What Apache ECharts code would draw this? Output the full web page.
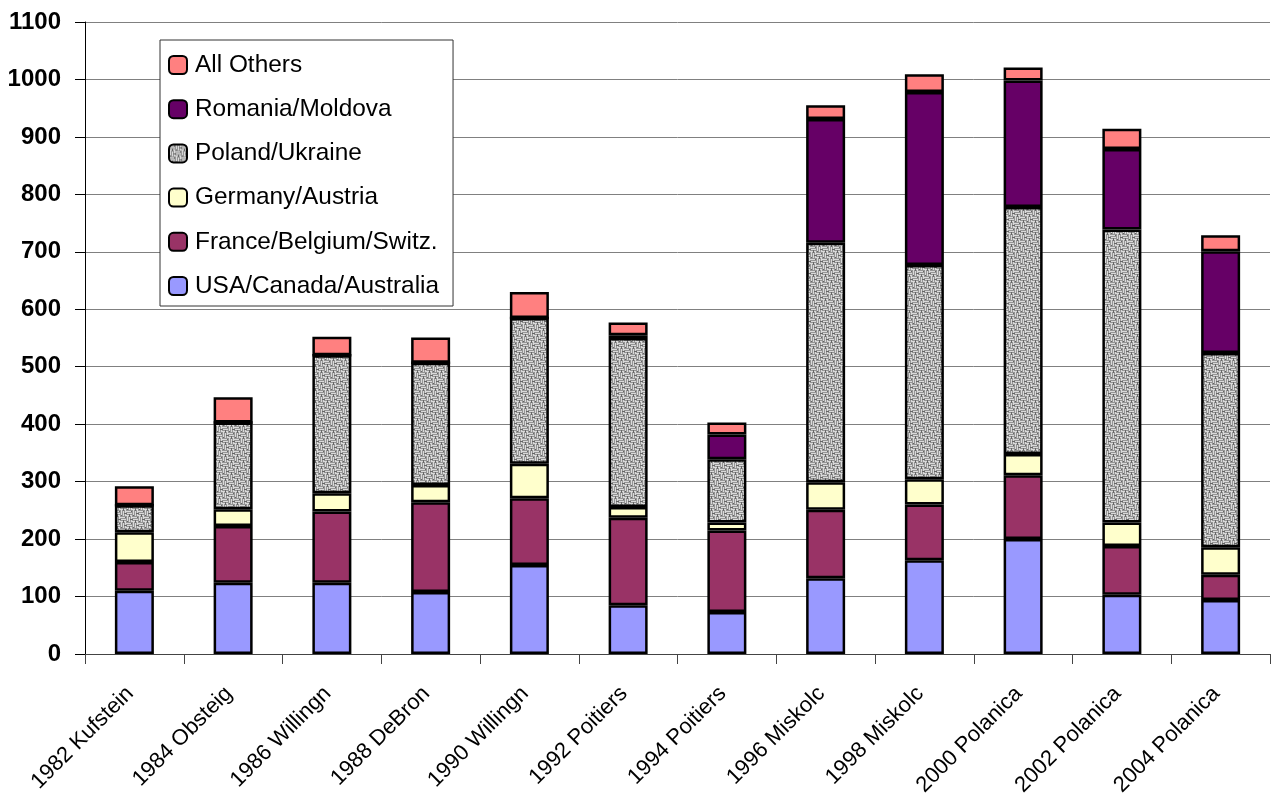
<!DOCTYPE html>
<html>
<head>
<meta charset="utf-8">
<script src="https://cdn.jsdelivr.net/npm/echarts@6/dist/echarts.min.js"></script>
<style>
html,body{margin:0;padding:0;background:#fff;}
#chart{width:1273px;height:796px;}
</style>
</head>
<body>
<div id="chart"></div>
<script>
const categories = ['1982 Kufstein','1984 Obsteig','1986 Willingn','1988 DeBron','1990 Willingn','1992 Poitiers','1994 Poitiers','1996 Miskolc','1998 Miskolc','2000 Polanica','2002 Polanica','2004 Polanica'];
const usaCanadaAustralia = [110,124,124,108,155,85,73,132,163,200,103,94];
const franceBelgiumSwitz = [50,99,124,156,116,152,142,119,97,111,85,44];
const germanyAustria = [52,29,32,30,60,19,14,48,44,37,41,48];
const polandUkraine = [47,151,240,213,254,294,110,417,373,430,510,338];
const romaniaMoldova = [0,0,0,0,0,5,43,215,301,220,140,177];
const allOthers = [33,44,32,44,45,22,21,24,31,23,35,28];
const yTicks = [0,100,200,300,400,500,600,700,800,900,1000,1100];

// textured gray (basket weave) fill for Poland/Ukraine
function makePattern(){
  const H = [
    'gggggg',
    'wwwwwd',
    'gggggg',
    'dwwwww',
    'gggdgg',
    'wwwdww'
  ];
  const V = H.map((_, i) => H.map(r => r[i]).join(''));
  const rows = [];
  for (let i=0;i<6;i++) rows.push(H[i] + V[i]);
  for (let i=0;i<6;i++) rows.push(V[i] + H[i]);
  const pal = {w:'#dadada', g:'#959595', d:'#666666'};
  const c = document.createElement('canvas');
  c.width = 12; c.height = 12;
  const ctx = c.getContext('2d');
  for (let y=0;y<12;y++) for (let x=0;x<12;x++){ ctx.fillStyle = pal[rows[y][x]]; ctx.fillRect(x,y,1,1); }
  return c;
}
const polandFill = {image: makePattern(), repeat: 'repeat'};

const FONT = "'Liberation Sans', Arial, sans-serif";
const seriesDefs = [
  ['USA/Canada/Australia', usaCanadaAustralia, '#9999ff'],
  ['France/Belgium/Switz.', franceBelgiumSwitz, '#993366'],
  ['Germany/Austria', germanyAustria, '#ffffcc'],
  ['Poland/Ukraine', polandUkraine, polandFill],
  ['Romania/Moldova', romaniaMoldova, '#660066'],
  ['All Others', allOthers, '#ff8080']
];

const chart = echarts.init(document.getElementById('chart'), null, {renderer:'canvas'});
chart.setOption({
  animation: false,
  backgroundColor: '#ffffff',
  grid: {left: 85, right: 3, top: 22, bottom: 142, containLabel: false, outerBoundsMode: 'none'},
  legend: {
    orient: 'vertical',
    left: 160, top: 40,
    data: seriesDefs.map(s=>s[0]).reverse(),
    itemWidth: 18, itemHeight: 18,
    itemGap: 20.2,
    padding: [13, 14, 8, 8],
    backgroundColor: '#ffffff',
    borderColor: '#333333', borderWidth: 1,
    textStyle: {fontFamily: FONT, fontSize: 24.4, color: '#000', padding: [0, 0, 0, 3]}
  },
  xAxis: {
    type: 'category',
    data: categories,
    axisLine: {lineStyle: {color: '#444', width: 1}},
    axisTick: {show: true, length: 10, lineStyle: {color: '#444'}},
    axisLabel: {rotate: 45, margin: 32, padding: [0, 6, 0, 0], fontFamily: FONT, fontSize: 22, color: '#000', interval: 0}
  },
  yAxis: {
    type: 'value',
    min: 0, max: 1100, interval: 100,
    axisLine: {show: true, lineStyle: {color: '#000', width: 1}},
    axisTick: {show: true, inside: false, length: 10, lineStyle: {color: '#000'}},
    axisLabel: {margin: 24, fontFamily: FONT, fontSize: 24, fontWeight: 'bold', color: '#000',
      formatter: v => yTicks.includes(v) ? String(v) : ''},
    splitLine: {show: true, lineStyle: {color: '#808080', width: 1}}
  },
  series: seriesDefs.map(([name, data, color]) => ({
    name, type: 'bar', stack: 'total', data,
    barWidth: 39,
    itemStyle: {color, borderColor: '#000', borderWidth: 2.5},
    emphasis: {disabled: true}
  }))
});
</script>
</body>
</html>
